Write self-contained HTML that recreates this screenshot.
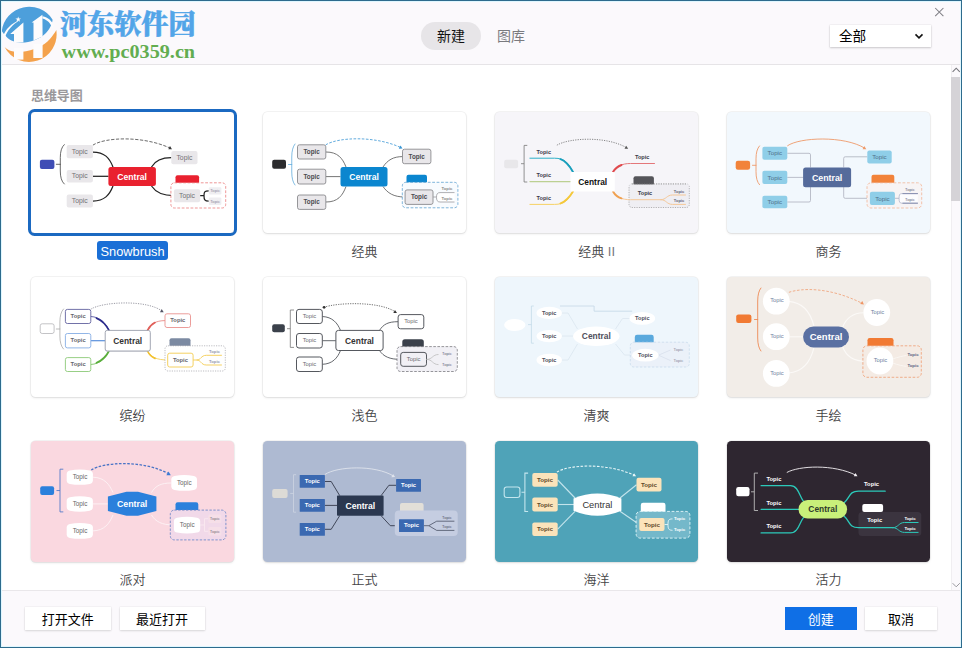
<!DOCTYPE html>
<html lang="zh-CN"><head><meta charset="utf-8"><title>新建</title>
<style>
*{box-sizing:border-box}
html,body{margin:0;padding:0}
body{width:962px;height:648px;position:relative;overflow:hidden;background:#fbf9fc;font-family:"Liberation Sans","Noto Sans CJK SC",sans-serif;color:#222}
.abs{position:absolute}
#frame{left:0;top:0;width:962px;height:648px;border:1px solid #2d6b8d;box-shadow:inset 0 0 0 1px #dff7ff;z-index:50;pointer-events:none}
#header{left:1px;top:1px;width:960px;height:63px;background:#fbf9fc}
#hline{left:1px;top:64px;width:960px;height:1px;background:#e6e4e7}
#content{left:1px;top:65px;width:960px;height:525px;background:#fff}
#fline{left:1px;top:590px;width:960px;height:1px;background:#e9e7ea}
#footer{left:1px;top:591px;width:960px;height:56px;background:#fbf9fc}
.card{position:absolute;width:203px;height:120.9px;border-radius:4.5px;box-shadow:0 0 0 .7px rgba(0,0,0,.06),0 1px 2.5px rgba(0,0,0,.10);overflow:hidden}
.card svg{display:block;font-family:"Liberation Sans",sans-serif}
.lbl{position:absolute;width:203px;text-align:center;font-size:13px;line-height:20px;color:#444446;white-space:nowrap;font-weight:350}
.btn{position:absolute;height:23px;line-height:25.6px;text-align:center;font-size:13px;overflow:hidden;background:#fff;color:#000;box-shadow:0 1px 2px rgba(0,0,0,.12),0 0 0 .5px rgba(0,0,0,.05)}
</style></head><body>
<div id="header" class="abs"></div>
<div id="hline" class="abs"></div>
<div id="content" class="abs"></div>
<div id="fline" class="abs"></div>
<div id="footer" class="abs"></div>
<svg class="abs" style="left:0;top:0" width="210" height="66" viewBox="0 0 210 66">
<g>
<path d="M1.8,31 A27.6,27.6 0 0 1 52.6,19.7 C52,25 49,30 45.7,33.3 C42,37 38,39 34.3,40.2 C30,41.8 25,42.8 20.8,42.6 C17,42.4 14,41.8 11.4,40.5 C9,39.2 6.5,37.5 5.2,35.3 C4,34 2.5,32.5 1.8,31 Z" fill="#4d9fdb"/>
<path d="M4.7,47.3 C8,50 10,51 13.5,51.6 C18,52.4 22,52 26,51.2 C32,50 37,48.5 41.6,45.7 C46,43 49.5,40 52,36.4 C54,34 55.3,32 56.3,30.1 A27.6,27.6 0 0 1 4.7,47.3 Z" fill="#f4a24c"/>
<path d="M3.2,36.4 C5.2,29.5 11,23.6 20.2,19.8 C12.4,24.8 7.6,30 4.9,37.4 Z" fill="#fdfcfd"/>
<path d="M10.2,34 L23.4,22.4 L23.4,42.6 L14,42 L14,34 Z" fill="#fdfcfd"/>
<path d="M31.6,22.6 L42.4,14.8 L42.6,36.5 L33.5,40.6 L33.5,22.6 Z" fill="#fdfcfd"/>
<path d="M42.4,16.3 C48.2,17.4 52,21 53.6,25.6 L52.4,28.4 C50.8,23.2 47.6,19.8 42.4,18.4 Z" fill="#fdfcfd"/>
<rect x="14" y="48" width="9.4" height="11.6" fill="#fdfcfd"/>
<rect x="33.3" y="44" width="9.3" height="14" fill="#fdfcfd"/>
<polygon points="18.2,16.4 18.9,18.4 21,18.4 19.3,19.7 20,21.8 18.2,20.5 16.4,21.8 17.1,19.7 15.4,18.4 17.5,18.4" fill="#fdfcfd"/>
</g>
<text x="60" y="34" font-family="'Liberation Serif','Noto Serif CJK SC',serif" font-weight="900" font-size="27" fill="#52a5e8" stroke="#52a5e8" stroke-width="0.5" textLength="135.5" lengthAdjust="spacingAndGlyphs">河东软件园</text>
<text x="61.6" y="58.4" font-family="'Liberation Serif',serif" font-weight="bold" font-size="19.5" fill="#62ad50" textLength="133.5" lengthAdjust="spacingAndGlyphs">www.pc0359.cn</text>
</svg>
<div class="abs" style="left:421px;top:22px;width:60px;height:28px;border-radius:14px;background:#e7e5e8"></div>
<div class="abs" style="left:421px;top:22px;width:60px;height:28px;line-height:29px;text-align:center;font-size:14px;color:#111">新建</div>
<div class="abs" style="left:481px;top:22px;width:60px;height:28px;line-height:29px;text-align:center;font-size:14px;color:#7a7a7e">图库</div>
<div class="abs" style="left:830.4px;top:25.4px;width:100.6px;height:21.8px;background:#fff;box-shadow:0 1px 2px rgba(0,0,0,.18),0 0 0 .5px rgba(0,0,0,.06)"></div>
<div class="abs" style="left:839px;top:25px;height:22px;line-height:23px;font-size:13.6px;color:#000">全部</div>
<svg class="abs" style="left:913px;top:31px" width="12" height="10" viewBox="0 0 12 10"><path d="M2.5,3.4 L6,6.8 L9.5,3.4" fill="none" stroke="#111" stroke-width="1.6"/></svg>
<svg class="abs" style="left:933px;top:6px" width="12" height="12" viewBox="0 0 12 12"><path d="M2.2,2 L10.4,10.1 M10.4,2 L2.2,10.1" fill="none" stroke="#7e7e84" stroke-width="1.05"/></svg>
<div class="abs" style="left:31px;top:86px;font-size:13px;line-height:20px;font-weight:bold;color:#9a989b;letter-spacing:-0.1px">思维导图</div>
<div class="abs" style="left:951px;top:65px;width:10px;height:525px;background:#fbf9fc;border-left:1px solid #f0eef1"></div>
<div class="abs" style="left:951px;top:77px;width:9px;height:124px;background:#d5d3d7"></div>
<svg class="abs" style="left:951px;top:66px" width="10" height="8" viewBox="0 0 10 8"><path d="M1.6,5.8 L5.2,2.2 L8.8,5.8" fill="none" stroke="#77777c" stroke-width="1.1"/></svg>
<svg class="abs" style="left:951.4px;top:581px" width="10" height="8" viewBox="0 0 10 8"><path d="M1.6,2.2 L5.2,5.8 L8.8,2.2" fill="none" stroke="#8e8e94" stroke-width="0.9"/></svg>
<div class="card" style="left:31.1px;top:112.3px;background:#ffffff"></div>
<div class="abs" style="left:28px;top:109px;width:209.3px;height:126.8px;border:3px solid #1b69c1;border-radius:6.5px"></div>
<div class="abs" style="left:97px;top:241px;width:71px;height:19px;border-radius:3px;background:#1a6fd6"></div>
<div class="lbl" style="left:31.1px;top:242.1px;color:#fff;font-weight:400;font-size:12.8px">Snowbrush</div>
<div class="card" style="left:263.1px;top:112.3px;background:#ffffff"></div>
<div class="lbl" style="left:263.1px;top:241.5px">经典</div>
<div class="card" style="left:495.1px;top:112.3px;background:#f6f5f9"></div>
<div class="lbl" style="left:495.1px;top:241.5px">经典 <span style="color:#77777c">II</span></div>
<div class="card" style="left:727.1px;top:112.3px;background:#f2f8fd"></div>
<div class="lbl" style="left:727.1px;top:241.5px">商务</div>
<div class="card" style="left:31.1px;top:276.6px;background:#ffffff"></div>
<div class="lbl" style="left:31.1px;top:405.8px">缤纷</div>
<div class="card" style="left:263.1px;top:276.6px;background:#ffffff"></div>
<div class="lbl" style="left:263.1px;top:405.8px">浅色</div>
<div class="card" style="left:495.1px;top:276.6px;background:#eef6fc"></div>
<div class="lbl" style="left:495.1px;top:405.8px">清爽</div>
<div class="card" style="left:727.1px;top:276.6px;background:#f2ede8"></div>
<div class="lbl" style="left:727.1px;top:405.8px">手绘</div>
<div class="card" style="left:31.1px;top:440.8px;background:#fad8e0"></div>
<div class="lbl" style="left:31.1px;top:570.0px">派对</div>
<div class="card" style="left:263.1px;top:440.8px;background:#aebad2"></div>
<div class="lbl" style="left:263.1px;top:570.0px">正式</div>
<div class="card" style="left:495.1px;top:440.8px;background:#4fa3b8"></div>
<div class="lbl" style="left:495.1px;top:570.0px">海洋</div>
<div class="card" style="left:727.1px;top:440.8px;background:#2e2630"></div>
<div class="lbl" style="left:727.1px;top:570.0px">活力</div>
<svg class="abs" style="left:0;top:0;font-family:&quot;Liberation Sans&quot;,sans-serif" width="962" height="648" viewBox="0 0 962 648">
<g transform="translate(30.50,111.00)"><path d="M62.4,41 C74,41 79,47 82.5,56" fill="none" stroke="#222" stroke-width="1.25" /><path d="M62.4,65.3 L78,65.3" fill="none" stroke="#222" stroke-width="1.25" /><path d="M62.4,90 C74,90 79,84 82.5,75" fill="none" stroke="#222" stroke-width="1.25" /><path d="M121,56 C125,49 131,46.7 140.8,46.7" fill="none" stroke="#222" stroke-width="1.25" /><path d="M121,75 C125,81 131,84.7 143.4,84.7" fill="none" stroke="#222" stroke-width="1.25" /><rect x="9.40" y="48.80" width="14.50" height="9.20" rx="2" fill="#3f4db5" /><path d="M33.8,33.6 C31.00,36.10 29.80,40.60 29.80,46.60 L29.80,60.00 C29.80,66.00 31.00,70.50 33.8,73 M29.80,53.3 L25.8,53.3" fill="none" stroke="#444" stroke-width="0.8" stroke-linecap="round"/><rect x="36.20" y="34.10" width="26.20" height="13.10" rx="2" fill="#e9e7ea" /><text x="49.30" y="40.27" font-size="6.8" fill="#707074" font-weight="normal" text-anchor="middle" dominant-baseline="central" >Topic</text><rect x="36.20" y="59.00" width="26.20" height="12.60" rx="2" fill="#e9e7ea" /><text x="49.30" y="64.92" font-size="6.8" fill="#707074" font-weight="normal" text-anchor="middle" dominant-baseline="central" >Topic</text><rect x="36.20" y="83.40" width="26.20" height="13.10" rx="2" fill="#e9e7ea" /><text x="49.30" y="89.57" font-size="6.8" fill="#707074" font-weight="normal" text-anchor="middle" dominant-baseline="central" >Topic</text><rect x="77.90" y="55.90" width="47.50" height="19.10" rx="2.5" fill="#e9212f" /><text x="101.60" y="65.60" font-size="8.6" fill="#fff" font-weight="bold" text-anchor="middle" dominant-baseline="central" >Central</text><rect x="140.80" y="40.10" width="26.20" height="13.20" rx="2" fill="#e9e7ea" /><text x="153.90" y="46.32" font-size="6.8" fill="#707074" font-weight="normal" text-anchor="middle" dominant-baseline="central" >Topic</text><rect x="145.00" y="64.30" width="23.60" height="8.70" rx="2" fill="#e9212f" /><rect x="140.40" y="71.80" width="54.80" height="25.20" rx="3.5" fill="#fff" stroke="#e86c6c" stroke-width="0.7" stroke-dasharray="2.8 1.6"/><rect x="143.40" y="78.20" width="26.30" height="13.10" rx="2" fill="#e9e7ea" /><text x="156.55" y="84.37" font-size="6.8" fill="#707074" font-weight="normal" text-anchor="middle" dominant-baseline="central" >Topic</text><path d="M169.7,84.7 L173.5,84.7 M178.3,79.8 C174,79.8 173.5,81 173.5,84.7 C173.5,88.5 174,90.2 178.3,90.2" fill="none" stroke="#222" stroke-width="1.25" /><rect x="178.30" y="76.30" width="12.60" height="7.10" rx="1.2" fill="#efeef1" /><text x="184.60" y="79.69" font-size="4.2" fill="#8a8a9a" font-weight="normal" text-anchor="middle" dominant-baseline="central" >Topic</text><rect x="178.30" y="86.60" width="12.60" height="7.30" rx="1.2" fill="#efeef1" /><text x="184.60" y="90.09" font-size="4.2" fill="#8a8a9a" font-weight="normal" text-anchor="middle" dominant-baseline="central" >Topic</text><path d="M62.4,34.1 C74.4,26.3 112.4,24.3 140.3,37.400000000000006" fill="none" stroke="#3a3a3a" stroke-width="0.75" stroke-dasharray="3.3 1.5"/><polygon points="141.50,38.20 137.80,38.26 139.48,35.10" fill="#3a3a3a"/></g>
<g transform="translate(262.50,111.00)"><path d="M63.5,41 C75,41 80,47 83.5,56" fill="none" stroke="#666" stroke-width="0.9" /><path d="M63.5,65.6 L78,65.6" fill="none" stroke="#666" stroke-width="0.9" /><path d="M63.5,91 C75,91 80,85 83.5,75.5" fill="none" stroke="#666" stroke-width="0.9" /><path d="M120.5,56 C125,49 131,45.6 140,45.6" fill="none" stroke="#666" stroke-width="0.9" /><path d="M120.5,75.5 C125,82 131,86 142.4,86" fill="none" stroke="#666" stroke-width="0.9" /><rect x="9.70" y="48.80" width="13.80" height="8.90" rx="2" fill="#2c2c2e" /><path d="M32.5,33 C30.45,35.50 29.25,40.00 29.25,46.00 L29.25,61.00 C29.25,67.00 30.45,71.50 32.5,74 M29.25,53.5 L26,53.5" fill="none" stroke="#62acdc" stroke-width="0.8" stroke-linecap="round"/><rect x="35.00" y="33.80" width="28.30" height="14.20" rx="2" fill="#e9e7ea" stroke="#8b8b8e" stroke-width="0.9" /><text x="49.15" y="40.56" font-size="6.3" fill="#4a4a4e" font-weight="bold" text-anchor="middle" dominant-baseline="central" >Topic</text><rect x="35.00" y="58.20" width="28.30" height="14.80" rx="2" fill="#e9e7ea" stroke="#8b8b8e" stroke-width="0.9" /><text x="49.15" y="65.26" font-size="6.3" fill="#4a4a4e" font-weight="bold" text-anchor="middle" dominant-baseline="central" >Topic</text><rect x="35.00" y="84.00" width="28.30" height="14.40" rx="2" fill="#e9e7ea" stroke="#8b8b8e" stroke-width="0.9" /><text x="49.15" y="90.86" font-size="6.3" fill="#4a4a4e" font-weight="bold" text-anchor="middle" dominant-baseline="central" >Topic</text><rect x="78.00" y="56.00" width="47.00" height="19.50" rx="2.5" fill="#0b86cf" /><text x="101.50" y="65.90" font-size="8.6" fill="#fff" font-weight="bold" text-anchor="middle" dominant-baseline="central" >Central</text><rect x="140.00" y="38.20" width="28.40" height="14.50" rx="2" fill="#e9e7ea" stroke="#8b8b8e" stroke-width="0.9" /><text x="154.20" y="45.11" font-size="6.3" fill="#4a4a4e" font-weight="bold" text-anchor="middle" dominant-baseline="central" >Topic</text><rect x="144.00" y="63.70" width="20.50" height="9.30" rx="2" fill="#0b86cf" /><rect x="139.80" y="71.30" width="55.60" height="25.50" rx="3.5" fill="#f8fbfe" stroke="#4b95cc" stroke-width="0.7" stroke-dasharray="2.8 1.6"/><rect x="142.60" y="78.90" width="27.90" height="14.50" rx="2" fill="#e9e7ea" stroke="#8b8b8e" stroke-width="0.9" /><text x="156.55" y="85.81" font-size="6.3" fill="#4a4a4e" font-weight="bold" text-anchor="middle" dominant-baseline="central" >Topic</text><path d="M170.5,86 L174,86" fill="none" stroke="#9a9aa0" stroke-width="0.8" /><path d="M192,81.6 L177.5,81.6 C174.6,81.6 174,83.4 174,86.2 C174,89 174.6,91 177.5,91 L192,91 Z" fill="#fff"/><path d="M192,81.6 L177.5,81.6 C174.6,81.6 174,83.4 174,86.2 C174,89 174.6,91 177.5,91 L192,91" fill="none" stroke="#9a9aa0" stroke-width="0.8" /><text x="184.50" y="77.84" font-size="4.2" fill="#888" font-weight="bold" text-anchor="middle" dominant-baseline="central" >Topic</text><text x="184.50" y="87.04" font-size="4.2" fill="#888" font-weight="bold" text-anchor="middle" dominant-baseline="central" >Topic</text><path d="M63.3,33.8 C75.3,26.3 112.4,24.3 138.8,36.800000000000004" fill="none" stroke="#3a96d4" stroke-width="0.8" stroke-dasharray="2.6 1.5"/><polygon points="140.00,37.60 136.30,37.66 137.98,34.50" fill="#3a96d4"/></g>
<g transform="translate(494.50,111.00)"><rect x="9.70" y="48.80" width="13.90" height="8.40" rx="2" fill="#e8e7ea" /><path d="M32.8,34.4 L29.6,34.4 L29.6,71 L32.8,71 M29.6,52.7 L26.5,52.7" fill="none" stroke="#777" stroke-width="0.8" /><path d="M35.4,47.2 L60,47.2 C70,47.2 74,52 78.5,61" fill="none" stroke="#2eb0c8" stroke-width="1.0" stroke-linecap="round"/><path d="M66,48.2 C71,50 74.5,54 78.5,61" fill="none" stroke="#1a9fbc" stroke-width="1.9" stroke-linecap="round"/><path d="M35.4,70.6 L76,70.6" fill="none" stroke="#bcd092" stroke-width="1.1" stroke-linecap="round"/><path d="M35.4,93.4 L60,93.4 C70,93.4 74,89 78.5,80.5" fill="none" stroke="#f6d264" stroke-width="1.0" stroke-linecap="round"/><path d="M66,92.4 C71,90.6 74.5,87 78.5,80.5" fill="none" stroke="#f4c83c" stroke-width="1.9" stroke-linecap="round"/><path d="M118.5,61 C122,55.5 127,52.5 136,52.5 L160,52.5" fill="none" stroke="#e4777a" stroke-width="1.0" stroke-linecap="round"/><path d="M118.5,61 C120.5,57.5 123,55.5 127,54" fill="none" stroke="#e04a4e" stroke-width="1.9" stroke-linecap="round"/><rect x="134.50" y="73.00" width="60.30" height="23.50" rx="3" fill="#efeef3" stroke="#888" stroke-width="0.6" stroke-dasharray="1.2 1.2"/><path d="M118.5,80.5 C122,86 127,88.7 136,88.7 L166,88.7" fill="none" stroke="#f5c898" stroke-width="1.0" stroke-linecap="round"/><path d="M118.5,80.5 C120.5,84 123,86.2 127,87.4" fill="none" stroke="#f0a050" stroke-width="1.9" stroke-linecap="round"/><path d="M166,88.7 C172,88.7 172,84 178,84 L191.4,84 M166,88.7 C172,88.7 172,93.4 178,93.4 L191.4,93.4" fill="none" stroke="#f5c898" stroke-width="1" /><text x="49.30" y="40.82" font-size="5.6" fill="#3a3a48" font-weight="bold" text-anchor="middle" dominant-baseline="central" >Topic</text><text x="49.30" y="63.92" font-size="5.6" fill="#3a3a48" font-weight="bold" text-anchor="middle" dominant-baseline="central" >Topic</text><text x="49.30" y="86.72" font-size="5.6" fill="#3a3a48" font-weight="bold" text-anchor="middle" dominant-baseline="central" >Topic</text><rect x="76.00" y="61.00" width="44.30" height="19.60" rx="1.5" fill="#fff" /><text x="98.20" y="70.90" font-size="8.4" fill="#111" font-weight="bold" text-anchor="middle" dominant-baseline="central" >Central</text><text x="147.70" y="45.52" font-size="5.6" fill="#3a3a48" font-weight="bold" text-anchor="middle" dominant-baseline="central" >Topic</text><rect x="139.00" y="65.30" width="20.40" height="9.70" rx="2" fill="#55555a" /><rect x="134.90" y="73.40" width="59.50" height="2.10" rx="0" fill="#efeef3" /><path d="M137.5,73 L191.8,73" fill="none" stroke="#888" stroke-width="0.6" stroke-dasharray="1.2 1.2"/><text x="150.50" y="81.72" font-size="5.6" fill="#3a3a48" font-weight="bold" text-anchor="middle" dominant-baseline="central" >Topic</text><text x="184.50" y="80.06" font-size="4.0" fill="#667" font-weight="bold" text-anchor="middle" dominant-baseline="central" >Topic</text><text x="184.50" y="89.66" font-size="4.0" fill="#667" font-weight="bold" text-anchor="middle" dominant-baseline="central" >Topic</text><path d="M62.4,34.2 C74.4,26.8 112.4,24.8 132.5,37.0" fill="none" stroke="#555" stroke-width="0.7" stroke-dasharray="1.2 1.2"/><polygon points="133.70,37.80 130.00,37.86 131.68,34.70" fill="#555"/></g>
<g transform="translate(726.50,111.00)"><path d="M60.8,42.3 L82.5,42.3 Q84,42.3 84,43.8 L84,56.4" fill="none" stroke="#b4b8c4" stroke-width="0.9" /><path d="M60.8,66.4 L77,66.4" fill="none" stroke="#b4b8c4" stroke-width="0.9" /><path d="M60.8,91 L82.5,91 Q84,91 84,89.5 L84,76" fill="none" stroke="#b4b8c4" stroke-width="0.9" /><path d="M117.2,56.4 L117.2,47.3 Q117.2,45.8 118.7,45.8 L140.8,45.8" fill="none" stroke="#b4b8c4" stroke-width="0.9" /><path d="M117.2,76 L117.2,85.8 Q117.2,87.3 118.7,87.3 L143.4,87.3" fill="none" stroke="#b4b8c4" stroke-width="0.9" /><rect x="9.20" y="49.80" width="14.40" height="9.00" rx="2.2" fill="#f2833a" /><path d="M33,34.9 C30.70,37.40 29.50,41.90 29.50,47.90 L29.50,60.70 C29.50,66.70 30.70,71.20 33,73.7 M29.50,54.3 L26,54.3" fill="none" stroke="#ee9a6a" stroke-width="0.9" stroke-linecap="round"/><rect x="35.90" y="35.70" width="24.90" height="13.10" rx="2" fill="#8fcee8" /><text x="48.35" y="41.92" font-size="6.2" fill="#4f7088" font-weight="normal" text-anchor="middle" dominant-baseline="central" >Topic</text><rect x="35.90" y="59.80" width="24.90" height="13.10" rx="2" fill="#8fcee8" /><text x="48.35" y="66.02" font-size="6.2" fill="#4f7088" font-weight="normal" text-anchor="middle" dominant-baseline="central" >Topic</text><rect x="35.90" y="84.70" width="24.90" height="12.60" rx="2" fill="#8fcee8" /><text x="48.35" y="90.67" font-size="6.2" fill="#4f7088" font-weight="normal" text-anchor="middle" dominant-baseline="central" >Topic</text><rect x="76.60" y="56.40" width="48.00" height="19.90" rx="2.5" fill="#556b9b" /><text x="100.60" y="66.60" font-size="8.8" fill="#fff" font-weight="bold" text-anchor="middle" dominant-baseline="central" >Central</text><rect x="140.80" y="39.40" width="24.40" height="13.10" rx="2" fill="#8fcee8" /><text x="153.00" y="45.62" font-size="6.2" fill="#4f7088" font-weight="normal" text-anchor="middle" dominant-baseline="central" >Topic</text><rect x="145.00" y="63.70" width="22.80" height="9.30" rx="2" fill="#f2833a" /><rect x="140.50" y="71.80" width="54.70" height="25.20" rx="4" fill="#f7f4f5" stroke="#f1a982" stroke-width="0.65" stroke-dasharray="2.8 1.7"/><rect x="143.40" y="80.80" width="25.00" height="13.10" rx="2" fill="#8fcee8" /><text x="155.90" y="87.02" font-size="6.2" fill="#4f7088" font-weight="normal" text-anchor="middle" dominant-baseline="central" >Topic</text><path d="M168.4,87.3 L172.6,87.3" fill="none" stroke="#a8aec4" stroke-width="0.8" /><path d="M191.4,82.6 L175.2,82.6 C173,82.6 172.6,84 172.6,87.3 C172.6,90.6 173,92.2 175.2,92.2 L191.4,92.2 Z" fill="#fcfcfe"/><path d="M191.4,82.6 L175.2,82.6 C173,82.6 172.6,84 172.6,87.3 C172.6,90.6 173,92.2 175.2,92.2 L191.4,92.2" fill="none" stroke="#a8aec4" stroke-width="0.7" /><path d="M176,82.6 L191.4,82.6 M176,92.2 L191.4,92.2" fill="none" stroke="#8088ac" stroke-width="0.9" /><text x="183.50" y="78.54" font-size="4.2" fill="#667" font-weight="normal" text-anchor="middle" dominant-baseline="central" >Topic</text><text x="183.50" y="88.44" font-size="4.2" fill="#667" font-weight="normal" text-anchor="middle" dominant-baseline="central" >Topic</text><path d="M60.8,34.9 C72.8,26.3 117.6,24.3 138.60000000000002,37.400000000000006" fill="none" stroke="#ee9a6a" stroke-width="0.9" /><polygon points="139.80,38.20 136.10,38.26 137.78,35.10" fill="#ee9a6a"/></g>
<g transform="translate(30.50,275.00)"><path d="M60.3,41.5 C70,42 75,48 78.5,55.4" fill="none" stroke="#5656a4" stroke-width="0.9" stroke-linecap="round"/><path d="M66,43.2 C71.5,45.5 75.6,49.6 78.5,55.4" fill="none" stroke="#2b2b8c" stroke-width="1.7" stroke-linecap="round"/><path d="M60.3,65.7 L75,65.7" fill="none" stroke="#5a90dc" stroke-width="1.2" /><path d="M60.3,89.5 C70,89 75,83 78.5,76" fill="none" stroke="#7cc264" stroke-width="0.9" stroke-linecap="round"/><path d="M66,87.8 C71.5,85.5 75.6,81.6 78.5,76" fill="none" stroke="#5aae3c" stroke-width="1.7" stroke-linecap="round"/><path d="M117,55.4 C120,49 125,45.6 134.5,45.6" fill="none" stroke="#ea8a86" stroke-width="0.9" stroke-linecap="round"/><path d="M117,55.4 C118.6,52 121,49.4 124.5,47.6" fill="none" stroke="#e0605a" stroke-width="1.7" stroke-linecap="round"/><path d="M117,76 C120,82 126,85 137.2,85" fill="none" stroke="#f4d060" stroke-width="0.9" stroke-linecap="round"/><path d="M117,76 C118.6,79.4 121,82 124.5,83.4" fill="none" stroke="#f2c12e" stroke-width="1.7" stroke-linecap="round"/><rect x="9.70" y="48.80" width="13.90" height="9.70" rx="2" fill="#fff" stroke="#b4b4b8" stroke-width="0.8" /><path d="M33,34 C30.60,36.50 29.40,41.00 29.40,47.00 L29.40,61.00 C29.40,67.00 30.60,71.50 33,74 M29.40,54.0 L25.8,54.0" fill="none" stroke="#aaa" stroke-width="0.8" stroke-linecap="round"/><rect x="34.90" y="34.40" width="25.40" height="14.10" rx="2" fill="#fff" stroke="#62629e" stroke-width="0.9" /><text x="47.60" y="41.16" font-size="5.8" fill="#66666c" font-weight="bold" text-anchor="middle" dominant-baseline="central" >Topic</text><rect x="34.90" y="58.50" width="25.40" height="14.40" rx="2" fill="#fff" stroke="#86aee4" stroke-width="0.9" /><text x="47.60" y="65.41" font-size="5.8" fill="#66666c" font-weight="bold" text-anchor="middle" dominant-baseline="central" >Topic</text><rect x="34.90" y="82.60" width="25.40" height="13.90" rx="2" fill="#fff" stroke="#8cca78" stroke-width="0.9" /><text x="47.60" y="89.26" font-size="5.8" fill="#66666c" font-weight="bold" text-anchor="middle" dominant-baseline="central" >Topic</text><rect x="74.90" y="56.20" width="44.70" height="20.40" rx="2" fill="#c8cad2" /><rect x="74.70" y="55.40" width="45.10" height="20.60" rx="2" fill="#fff" stroke="#9a9eac" stroke-width="0.9" /><text x="97.20" y="65.90" font-size="8.4" fill="#333" font-weight="bold" text-anchor="middle" dominant-baseline="central" >Central</text><rect x="134.50" y="38.80" width="25.50" height="13.70" rx="2" fill="#fff" stroke="#ea928e" stroke-width="0.9" /><text x="147.25" y="45.36" font-size="5.8" fill="#66666c" font-weight="bold" text-anchor="middle" dominant-baseline="central" >Topic</text><rect x="139.00" y="63.20" width="21.00" height="9.80" rx="2" fill="#7c8aa2" /><rect x="134.50" y="70.80" width="60.30" height="25.20" rx="3" fill="#fff" stroke="#909098" stroke-width="0.6" stroke-dasharray="1.2 1.2"/><rect x="137.20" y="78.20" width="25.40" height="13.80" rx="2" fill="#fff" stroke="#f4cc50" stroke-width="0.9" /><text x="149.90" y="84.81" font-size="5.8" fill="#66666c" font-weight="bold" text-anchor="middle" dominant-baseline="central" >Topic</text><path d="M162.6,85 L166,85 M166,85 C171,85 170,80.3 176,80.3 L191.4,80.3 M166,85 C171,85 170,90 176,90 L191.4,90" fill="none" stroke="#f4cc50" stroke-width="0.9" /><text x="184.00" y="76.84" font-size="4.2" fill="#99a" font-weight="bold" text-anchor="middle" dominant-baseline="central" >Topic</text><text x="184.00" y="86.64" font-size="4.2" fill="#99a" font-weight="bold" text-anchor="middle" dominant-baseline="central" >Topic</text><path d="M60.3,34.2 C72.3,26.5 117,24.5 132.0,36.400000000000006" fill="none" stroke="#556" stroke-width="0.6" stroke-dasharray="1.2 1.2"/><polygon points="133.20,37.20 129.50,37.26 131.18,34.10" fill="#556"/></g>
<g transform="translate(262.50,275.00)"><path d="M59.8,41.5 C70,42 75,48 78,55.4" fill="none" stroke="#55585e" stroke-width="0.9" /><path d="M59.8,65.7 L73.4,65.7" fill="none" stroke="#55585e" stroke-width="0.9" /><path d="M59.8,89.3 C70,89 75,83 78,75.5" fill="none" stroke="#55585e" stroke-width="0.9" /><path d="M117,55.4 C121,49 126,46.7 135.6,46.7" fill="none" stroke="#55585e" stroke-width="0.9" /><path d="M117,75.5 C121,81.5 127,84.4 138.2,84.4" fill="none" stroke="#55585e" stroke-width="0.9" /><rect x="9.70" y="49.30" width="12.60" height="7.90" rx="2" fill="#3b414b" /><path d="M31.5,35 L27.8,35 L27.8,72.4 L31.5,72.4 M27.8,53.7 L24.5,53.7" fill="none" stroke="#777" stroke-width="0.8" /><rect x="34.00" y="34.40" width="25.80" height="14.10" rx="2.5" fill="#fff" stroke="#55585e" stroke-width="1" /><text x="46.90" y="41.16" font-size="5.8" fill="#6a6a70" font-weight="normal" text-anchor="middle" dominant-baseline="central" >Topic</text><rect x="34.00" y="58.50" width="25.80" height="14.50" rx="2.5" fill="#fff" stroke="#55585e" stroke-width="1" /><text x="46.90" y="65.46" font-size="5.8" fill="#6a6a70" font-weight="normal" text-anchor="middle" dominant-baseline="central" >Topic</text><rect x="34.00" y="82.00" width="25.80" height="14.50" rx="2.5" fill="#fff" stroke="#55585e" stroke-width="1" /><text x="46.90" y="88.96" font-size="5.8" fill="#6a6a70" font-weight="normal" text-anchor="middle" dominant-baseline="central" >Topic</text><rect x="73.40" y="55.40" width="47.20" height="20.10" rx="2.5" fill="#fff" stroke="#55585e" stroke-width="1" /><text x="97.00" y="65.60" font-size="8.4" fill="#333" font-weight="bold" text-anchor="middle" dominant-baseline="central" >Central</text><rect x="135.60" y="39.60" width="25.70" height="14.20" rx="2.5" fill="#fff" stroke="#55585e" stroke-width="1" /><text x="148.45" y="46.41" font-size="5.8" fill="#6a6a70" font-weight="normal" text-anchor="middle" dominant-baseline="central" >Topic</text><rect x="139.80" y="64.30" width="21.50" height="9.70" rx="2.5" fill="#3b414b" /><rect x="134.50" y="71.60" width="60.30" height="24.90" rx="3.5" fill="#f1f0f5" stroke="#6a6a70" stroke-width="0.7" stroke-dasharray="2.6 1.5"/><rect x="138.20" y="77.40" width="25.80" height="13.90" rx="2.5" fill="#f1f0f5" stroke="#55585e" stroke-width="1" /><text x="151.10" y="84.06" font-size="5.8" fill="#6a6a70" font-weight="normal" text-anchor="middle" dominant-baseline="central" >Topic</text><path d="M164,84.4 C170,84.4 170,79.5 176,79.5 M164,84.4 C170,84.4 170,89.6 176,89.6" fill="none" stroke="#bbb" stroke-width="0.8" /><text x="184.50" y="78.64" font-size="4.2" fill="#667" font-weight="normal" text-anchor="middle" dominant-baseline="central" >Topic</text><text x="184.50" y="89.24" font-size="4.2" fill="#667" font-weight="normal" text-anchor="middle" dominant-baseline="central" >Topic</text><path d="M61.6,32.3 C73.6,27.7 117,25.7 133.3,37.2" fill="none" stroke="#333" stroke-width="0.7" stroke-dasharray="1.2 1.2"/><polygon points="134.50,38.00 130.80,38.06 132.48,34.90" fill="#333"/><circle cx="61.6" cy="32.3" r="1.4" fill="#333"/></g>
<g transform="translate(494.50,275.00)"><path d="M67,38 L73.5,38 L83,54" fill="none" stroke="#dde8f0" stroke-width="0.9" /><path d="M67,61 L79,61" fill="none" stroke="#dde8f0" stroke-width="0.9" /><path d="M67,85 L73.5,85 L83,69" fill="none" stroke="#dde8f0" stroke-width="0.9" /><path d="M121,54 L128,43.5 L136,43.5" fill="none" stroke="#dde8f0" stroke-width="0.9" /><path d="M121,69 L130,80 L138,80" fill="none" stroke="#dde8f0" stroke-width="0.9" /><path d="M65.5,31 L99.6,31 L99.6,36.2 L137.7,36.2" fill="none" stroke="#c4d8e6" stroke-width="0.8" /><ellipse cx="20.3" cy="50" rx="10.7" ry="6" fill="#fff"/><path d="M39.3,31 L36.9,31 L36.9,68.2 L39.3,68.2 M36.9,49.6 L33.5,49.6" fill="none" stroke="#c4dae8" stroke-width="0.8" /><ellipse cx="54.7" cy="37.9" rx="12.7" ry="6.2" fill="#fff"/><text x="54.70" y="37.52" font-size="5.6" fill="#50505c" font-weight="bold" text-anchor="middle" dominant-baseline="central" >Topic</text><ellipse cx="54.7" cy="61.1" rx="12.7" ry="6.2" fill="#fff"/><text x="54.70" y="60.72" font-size="5.6" fill="#50505c" font-weight="bold" text-anchor="middle" dominant-baseline="central" >Topic</text><ellipse cx="54.7" cy="85" rx="12.7" ry="6.2" fill="#fff"/><text x="54.70" y="84.62" font-size="5.6" fill="#50505c" font-weight="bold" text-anchor="middle" dominant-baseline="central" >Topic</text><ellipse cx="101.8" cy="61.2" rx="23.2" ry="9.8" fill="#fff"/><text x="101.80" y="61.30" font-size="8.4" fill="#50505c" font-weight="bold" text-anchor="middle" dominant-baseline="central" >Central</text><ellipse cx="147.8" cy="43.4" rx="12.8" ry="6.4" fill="#fff"/><text x="147.80" y="43.02" font-size="5.6" fill="#50505c" font-weight="bold" text-anchor="middle" dominant-baseline="central" >Topic</text><rect x="140.30" y="59.80" width="18.90" height="9.70" rx="2.2" fill="#5aa9dd" /><rect x="135.80" y="67.20" width="59.00" height="24.80" rx="3.5" fill="#ebf1f9" stroke="#bdd5e8" stroke-width="0.6" stroke-dasharray="2.4 1.6"/><path d="M164,80.2 L176,75 M164,80.2 L176,85.6" fill="none" stroke="#d8e0ec" stroke-width="0.8" /><ellipse cx="150.8" cy="80.2" rx="13.2" ry="6.4" fill="#fff"/><text x="150.80" y="79.82" font-size="5.6" fill="#50505c" font-weight="bold" text-anchor="middle" dominant-baseline="central" >Topic</text><text x="184.00" y="74.44" font-size="4.2" fill="#889" font-weight="normal" text-anchor="middle" dominant-baseline="central" >Topic</text><text x="184.00" y="85.24" font-size="4.2" fill="#889" font-weight="normal" text-anchor="middle" dominant-baseline="central" >Topic</text></g>
<g transform="translate(726.50,275.00)"><path d="M62,26.4 C77,27.5 84.5,39 87.5,51.4" fill="none" stroke="#fbf9f7" stroke-width="1.1" /><path d="M63,61.8 L77,61.8" fill="none" stroke="#fbf9f7" stroke-width="1.1" /><path d="M62,98 C77,97 84.5,85 87.5,72.4" fill="none" stroke="#fbf9f7" stroke-width="1.1" /><path d="M116,52.5 C120,42 127,38 137,37.8" fill="none" stroke="#fbf9f7" stroke-width="1.1" /><path d="M116,71.5 C120,82 127,86 140,86.4" fill="none" stroke="#fbf9f7" stroke-width="1.1" /><rect x="9.70" y="39.40" width="15.20" height="8.60" rx="2.2" fill="#f17a33" /><path d="M34.4,13 C32.40,15.50 31.20,20.00 31.20,26.00 L31.20,63.00 C31.20,69.00 32.40,73.50 34.4,76 M31.20,44.5 L28,44.5" fill="none" stroke="#ee8a55" stroke-width="0.9" stroke-linecap="round"/><circle cx="49.8" cy="26.2" r="13.4" fill="#fff"/><text x="50.40" y="25.41" font-size="5.8" fill="#6e7fa0" font-weight="normal" text-anchor="middle" dominant-baseline="central" >Topic</text><circle cx="49.8" cy="61.7" r="13.4" fill="#fff"/><text x="50.40" y="60.91" font-size="5.8" fill="#6e7fa0" font-weight="normal" text-anchor="middle" dominant-baseline="central" >Topic</text><circle cx="49.8" cy="98.4" r="13.4" fill="#fff"/><text x="50.40" y="97.61" font-size="5.8" fill="#6e7fa0" font-weight="normal" text-anchor="middle" dominant-baseline="central" >Topic</text><rect x="76.60" y="51.40" width="45.90" height="21.00" rx="10.5" fill="#5a70a2" /><text x="99.60" y="61.90" font-size="9.5" fill="#fff" font-weight="bold" text-anchor="middle" dominant-baseline="central" >Central</text><circle cx="150.3" cy="37.5" r="13.4" fill="#fff"/><text x="151.00" y="36.71" font-size="5.8" fill="#6e7fa0" font-weight="normal" text-anchor="middle" dominant-baseline="central" >Topic</text><rect x="141.00" y="63.00" width="26.00" height="9.50" rx="2.2" fill="#f17a33" /><rect x="136.40" y="70.80" width="58.40" height="31.50" rx="4" fill="#f4ebe4" stroke="#ef9463" stroke-width="0.7" stroke-dasharray="2.6 1.6"/><path d="M166,84 C172,82 176,81 180,80.5 M166,88 C172,90 176,91 180,91.3" fill="none" stroke="#faf6f2" stroke-width="1" /><circle cx="153.4" cy="86" r="13.4" fill="#fff"/><text x="153.90" y="85.31" font-size="5.8" fill="#6e7fa0" font-weight="normal" text-anchor="middle" dominant-baseline="central" >Topic</text><text x="186.50" y="79.93" font-size="4.3" fill="#5a6484" font-weight="bold" text-anchor="middle" dominant-baseline="central" >Topic</text><text x="186.50" y="90.93" font-size="4.3" fill="#5a6484" font-weight="bold" text-anchor="middle" dominant-baseline="central" >Topic</text><path d="M62.4,17.3 C74.4,13.3 102,11.3 136.20000000000002,28.599999999999998" fill="none" stroke="#ef9463" stroke-width="0.7" stroke-dasharray="2.6 1.6"/><polygon points="137.40,29.40 133.72,29.01 135.78,26.07" fill="#ef9463"/></g>
<g transform="translate(30.50,439.50)"><path d="M62.4,37.7 C74,38 79,45 82.5,53" fill="none" stroke="#fdf3f5" stroke-width="0.9" /><path d="M62.4,64.4 L78,64.4" fill="none" stroke="#fdf3f5" stroke-width="0.9" /><path d="M62.4,91.4 C74,91 79,84 82.5,75.5" fill="none" stroke="#fdf3f5" stroke-width="0.9" /><path d="M121,53 C125,46 131,43.5 140.8,43.5" fill="none" stroke="#fdf3f5" stroke-width="0.9" /><path d="M121,75.5 C125,82 131,85.5 143.4,85.5" fill="none" stroke="#fdf3f5" stroke-width="0.9" /><rect x="9.70" y="46.70" width="13.90" height="8.70" rx="2" fill="#2b80dc" /><path d="M32.8,29.7 L29.5,29.7 L29.5,72.4 L32.8,72.4 M29.5,51.050000000000004 L26,51.050000000000004" fill="none" stroke="#567cc8" stroke-width="0.9" /><path d="M39.400000000000006,31.0 Q49.3,29.200000000000003 59.199999999999996,31.0 Q62.4,31.700000000000003 62.4,34.7 L62.4,40.699999999999996 Q62.4,43.699999999999996 59.199999999999996,44.4 Q49.3,46.199999999999996 39.400000000000006,44.4 Q36.2,43.699999999999996 36.2,40.699999999999996 L36.2,34.7 Q36.2,31.700000000000003 39.400000000000006,31.0 Z" fill="#fff"/><text x="49.50" y="37.16" font-size="6.3" fill="#666" font-weight="normal" text-anchor="middle" dominant-baseline="central" >Topic</text><path d="M39.400000000000006,57.699999999999996 Q49.3,55.9 59.199999999999996,57.699999999999996 Q62.4,58.4 62.4,61.4 L62.4,67.60000000000001 Q62.4,70.60000000000001 59.199999999999996,71.3 Q49.3,73.10000000000001 39.400000000000006,71.3 Q36.2,70.60000000000001 36.2,67.60000000000001 L36.2,61.4 Q36.2,58.4 39.400000000000006,57.699999999999996 Z" fill="#fff"/><text x="49.50" y="63.96" font-size="6.3" fill="#666" font-weight="normal" text-anchor="middle" dominant-baseline="central" >Topic</text><path d="M39.400000000000006,84.4 Q49.3,82.6 59.199999999999996,84.4 Q62.4,85.1 62.4,88.1 L62.4,94.7 Q62.4,97.7 59.199999999999996,98.39999999999999 Q49.3,100.2 39.400000000000006,98.39999999999999 Q36.2,97.7 36.2,94.7 L36.2,88.1 Q36.2,85.1 39.400000000000006,84.4 Z" fill="#fff"/><text x="49.50" y="90.86" font-size="6.3" fill="#666" font-weight="normal" text-anchor="middle" dominant-baseline="central" >Topic</text><polygon points="77.4,57 96,52.3 107.5,52.3 125.9,57 125.9,71.6 107.5,76.3 96,76.3 77.4,71.6" fill="#2b80dc"/><text x="101.60" y="64.40" font-size="8.8" fill="#fff" font-weight="bold" text-anchor="middle" dominant-baseline="central" >Central</text><path d="M144.0,36.5 Q153.65,34.7 163.3,36.5 Q166.5,37.2 166.5,40.2 L166.5,46.699999999999996 Q166.5,49.699999999999996 163.3,50.4 Q153.65,52.199999999999996 144.0,50.4 Q140.8,49.699999999999996 140.8,46.699999999999996 L140.8,40.2 Q140.8,37.2 144.0,36.5 Z" fill="#fff"/><text x="153.80" y="43.06" font-size="6.3" fill="#666" font-weight="normal" text-anchor="middle" dominant-baseline="central" >Topic</text><rect x="145.00" y="62.70" width="22.80" height="9.80" rx="2.2" fill="#2b80dc" /><rect x="139.80" y="70.60" width="55.60" height="29.80" rx="4" fill="#f1d9e9" stroke="#6580c4" stroke-width="0.8" stroke-dasharray="2.4 1.5"/><path d="M169.7,85.5 L174,85.5 M177.8,79.2 L174,79.2 L174,91.8 L177.8,91.8" fill="none" stroke="#f9e9ef" stroke-width="0.9" /><path d="M146.6,78.2 Q156.55,76.39999999999999 166.5,78.2 Q169.7,78.89999999999999 169.7,81.89999999999999 L169.7,89.4 Q169.7,92.4 166.5,93.1 Q156.55,94.9 146.6,93.1 Q143.4,92.4 143.4,89.4 L143.4,81.89999999999999 Q143.4,78.89999999999999 146.6,78.2 Z" fill="#fff"/><text x="156.70" y="85.16" font-size="6.3" fill="#666" font-weight="normal" text-anchor="middle" dominant-baseline="central" >Topic</text><rect x="177.80" y="75.00" width="13.10" height="8.40" rx="1.5" fill="#f6dfe8" /><text x="184.35" y="79.03" font-size="4.3" fill="#7a7078" font-weight="normal" text-anchor="middle" dominant-baseline="central" >Topic</text><rect x="177.80" y="87.60" width="13.10" height="8.40" rx="1.5" fill="#f6dfe8" /><text x="184.35" y="91.63" font-size="4.3" fill="#7a7078" font-weight="normal" text-anchor="middle" dominant-baseline="central" >Topic</text><path d="M60.8,30.5 C72.8,22.4 112.4,20.4 137.3,33.800000000000004" fill="none" stroke="#4a74c6" stroke-width="1.3" stroke-dasharray="2.6 1.5"/><polygon points="140.30,35.80 135.90,35.72 138.03,32.03" fill="#3a7ad4"/></g>
<g transform="translate(262.50,439.50)"><path d="M62.4,42 L68.7,42 L77.2,56.1" fill="none" stroke="#343a4c" stroke-width="0.9" /><path d="M62.4,65.9 L74.5,65.9" fill="none" stroke="#343a4c" stroke-width="0.9" /><path d="M62.4,89.8 L68.7,89.8 L77.2,76.2" fill="none" stroke="#343a4c" stroke-width="0.9" /><path d="M118.6,56.1 L126.4,45.8 L133.6,45.8" fill="none" stroke="#343a4c" stroke-width="0.9" /><path d="M118.6,76.2 L127.8,86.2 L136.5,86.2" fill="none" stroke="#343a4c" stroke-width="0.9" /><rect x="9.70" y="49.60" width="15.40" height="8.90" rx="2" fill="#dddbd6" /><path d="M33.6,35.2 L31,35.2 L31,72.7 L33.6,72.7 M31,53.95 L27.7,53.95" fill="none" stroke="#cdd4e2" stroke-width="0.8" /><rect x="37.20" y="35.60" width="25.20" height="12.70" rx="0.5" fill="#3b69b1" /><text x="49.80" y="41.66" font-size="5.8" fill="#fff" font-weight="bold" text-anchor="middle" dominant-baseline="central" >Topic</text><rect x="37.20" y="59.40" width="25.20" height="12.90" rx="0.5" fill="#3b69b1" /><text x="49.80" y="65.56" font-size="5.8" fill="#fff" font-weight="bold" text-anchor="middle" dominant-baseline="central" >Topic</text><rect x="37.20" y="83.40" width="25.20" height="12.90" rx="0.5" fill="#3b69b1" /><text x="49.80" y="89.56" font-size="5.8" fill="#fff" font-weight="bold" text-anchor="middle" dominant-baseline="central" >Topic</text><rect x="74.50" y="56.10" width="46.60" height="20.10" rx="0.8" fill="#2b3850" /><text x="97.80" y="66.30" font-size="8.6" fill="#fff" font-weight="bold" text-anchor="middle" dominant-baseline="central" >Central</text><rect x="133.60" y="39.50" width="24.90" height="12.70" rx="0.5" fill="#3b69b1" /><text x="146.05" y="45.56" font-size="5.8" fill="#fff" font-weight="bold" text-anchor="middle" dominant-baseline="central" >Topic</text><rect x="137.50" y="63.50" width="23.60" height="9.50" rx="2" fill="#e2dfd8" /><rect x="132.30" y="71.00" width="62.90" height="25.50" rx="4" fill="#c5cde1" /><path d="M161.4,86.2 L166.3,86.2 L174.2,81.7 L191.9,81.7 M166.3,86.2 L174.2,90.9 L191.9,90.9" fill="none" stroke="#4a5064" stroke-width="0.8" /><rect x="136.50" y="79.70" width="24.90" height="12.90" rx="0.5" fill="#3b69b1" /><text x="148.95" y="85.86" font-size="5.8" fill="#fff" font-weight="bold" text-anchor="middle" dominant-baseline="central" >Topic</text><text x="184.50" y="78.04" font-size="4.2" fill="#556" font-weight="normal" text-anchor="middle" dominant-baseline="central" >Topic</text><text x="184.50" y="87.34" font-size="4.2" fill="#556" font-weight="normal" text-anchor="middle" dominant-baseline="central" >Topic</text><path d="M62.4,35 C74.4,26.9 112.4,24.9 131.4,36.800000000000004" fill="none" stroke="#dfe3ec" stroke-width="0.9" /><polygon points="132.60,37.60 128.90,37.66 130.58,34.50" fill="#dfe3ec"/></g>
<g transform="translate(494.50,439.50)"><path d="M63.2,40.5 L80.5,58.5" fill="none" stroke="#c4e4ec" stroke-width="1.1" /><path d="M63.2,65 L79.5,65" fill="none" stroke="#c4e4ec" stroke-width="1.1" /><path d="M63.2,89.6 L80.5,71.8" fill="none" stroke="#c4e4ec" stroke-width="1.1" /><path d="M125.5,58.5 L142,45.2" fill="none" stroke="#c4e4ec" stroke-width="1.1" /><path d="M125.5,71.8 L144.8,85" fill="none" stroke="#c4e4ec" stroke-width="1.1" /><rect x="9.70" y="47.50" width="15.70" height="10.50" rx="2.5" fill="none" stroke="#c4e6ee" stroke-width="1.1" /><path d="M33.6,33.6 L30.4,33.6 L30.4,72 L33.6,72 M30.4,52.8 L27,52.8" fill="none" stroke="#c4e6ee" stroke-width="1.1" /><rect x="37.80" y="33.40" width="25.40" height="13.90" rx="2" fill="#fbe3ba" /><text x="50.50" y="40.02" font-size="6.2" fill="#5e4a2a" font-weight="bold" text-anchor="middle" dominant-baseline="central" >Topic</text><rect x="37.80" y="58.10" width="25.40" height="13.80" rx="2" fill="#fbe3ba" /><text x="50.50" y="64.67" font-size="6.2" fill="#5e4a2a" font-weight="bold" text-anchor="middle" dominant-baseline="central" >Topic</text><rect x="37.80" y="83.00" width="25.40" height="13.50" rx="2" fill="#fbe3ba" /><text x="50.50" y="89.42" font-size="6.2" fill="#5e4a2a" font-weight="bold" text-anchor="middle" dominant-baseline="central" >Topic</text><path d="M79,59 Q102.9,49 126.9,59 L126.9,71.2 Q102.9,81.2 79,71.2 Z" fill="#fff"/><text x="102.90" y="65.20" font-size="9.3" fill="#333" font-weight="normal" text-anchor="middle" dominant-baseline="central" >Central</text><rect x="142.00" y="38.30" width="25.00" height="13.70" rx="2" fill="#fbe3ba" /><text x="154.50" y="44.82" font-size="6.2" fill="#5e4a2a" font-weight="bold" text-anchor="middle" dominant-baseline="central" >Topic</text><rect x="146.30" y="63.20" width="24.70" height="10.30" rx="2.2" fill="#fff" /><rect x="141.60" y="71.90" width="53.80" height="26.70" rx="4" fill="#74b8ca" stroke="#d8f0f4" stroke-width="1.0" stroke-dasharray="2.8 1.7"/><path d="M170,85 L173.5,85 M178,79.4 C174,79.4 173.5,81 173.5,85 C173.5,89 174,90.8 178,90.8" fill="none" stroke="#e8f6f8" stroke-width="0.9" /><rect x="144.80" y="78.50" width="25.20" height="13.10" rx="2" fill="#fbe3ba" /><text x="157.40" y="84.72" font-size="6.2" fill="#5e4a2a" font-weight="bold" text-anchor="middle" dominant-baseline="central" >Topic</text><text x="185.00" y="78.83" font-size="4.3" fill="#fff" font-weight="bold" text-anchor="middle" dominant-baseline="central" >Topic</text><text x="185.00" y="90.43" font-size="4.3" fill="#fff" font-weight="bold" text-anchor="middle" dominant-baseline="central" >Topic</text><path d="M62.4,32.6 C74.4,25.0 112.4,23.0 140.4,36.0" fill="none" stroke="#e8f6f8" stroke-width="1.1" stroke-dasharray="2.6 1.5"/><polygon points="141.60,36.80 137.90,36.86 139.58,33.70" fill="#e8f6f8"/></g>
<g transform="translate(726.50,439.50)"><rect x="132.00" y="72.40" width="62.80" height="24.10" rx="3.5" fill="#3b343f" /><path d="M34.6,46.2 L64,46.2 C73,46.2 73,60 79,64" fill="none" stroke="#2cc9b9" stroke-width="1.3" stroke-linecap="round"/><path d="M34.6,69.8 L74,69.8" fill="none" stroke="#2cc9b9" stroke-width="1.3" stroke-linecap="round"/><path d="M34.6,93.4 L64,93.4 C73,93.4 73,80 79,76" fill="none" stroke="#2cc9b9" stroke-width="1.3" stroke-linecap="round"/><path d="M117,64 C124,58 122,51.7 132,51.7 L158.7,51.7" fill="none" stroke="#2cc9b9" stroke-width="1.3" stroke-linecap="round"/><path d="M117,76 C124,82 122,88.2 132,88.2 L166,88.2" fill="none" stroke="#2cc9b9" stroke-width="1.3" stroke-linecap="round"/><path d="M166,88.2 C172,88.2 172,83 178,83 L192,83 M166,88.2 C172,88.2 172,92.9 178,92.9 L192,92.9" fill="none" stroke="#2cc9b9" stroke-width="1" /><rect x="9.70" y="47.50" width="13.30" height="9.20" rx="2.2" fill="#fff" /><path d="M31.5,33.6 L27.8,33.6 L27.8,71 L31.5,71 M27.8,52.3 L24.5,52.3" fill="none" stroke="#bbb" stroke-width="0.9" /><text x="47.40" y="39.11" font-size="5.8" fill="#fff" font-weight="bold" text-anchor="middle" dominant-baseline="central" >Topic</text><text x="47.40" y="63.11" font-size="5.8" fill="#fff" font-weight="bold" text-anchor="middle" dominant-baseline="central" >Topic</text><text x="47.40" y="86.01" font-size="5.8" fill="#fff" font-weight="bold" text-anchor="middle" dominant-baseline="central" >Topic</text><rect x="72.00" y="60.60" width="48.60" height="18.40" rx="9.2" fill="#c9f07a" /><text x="96.30" y="69.90" font-size="8.4" fill="#2e3a2a" font-weight="bold" text-anchor="middle" dominant-baseline="central" >Central</text><text x="145.00" y="44.21" font-size="5.8" fill="#fff" font-weight="bold" text-anchor="middle" dominant-baseline="central" >Topic</text><rect x="135.80" y="64.60" width="20.80" height="7.80" rx="2" fill="#fff" /><text x="148.20" y="80.81" font-size="5.8" fill="#fff" font-weight="bold" text-anchor="middle" dominant-baseline="central" >Topic</text><text x="183.50" y="78.93" font-size="4.3" fill="#fff" font-weight="bold" text-anchor="middle" dominant-baseline="central" >Topic</text><text x="183.50" y="88.93" font-size="4.3" fill="#fff" font-weight="bold" text-anchor="middle" dominant-baseline="central" >Topic</text><path d="M60.3,33 C72.3,26.3 107,24.3 129.8,35.900000000000006" fill="none" stroke="#f4f0f4" stroke-width="0.9" /><polygon points="131.00,36.70 127.30,36.76 128.98,33.60" fill="#f4f0f4"/></g>
</svg>
<div class="btn" style="left:25px;top:607px;width:85.5px">打开文件</div>
<div class="btn" style="left:119.5px;top:607px;width:85px">最近打开</div>
<div class="btn" style="left:785px;top:607px;width:71.5px;background:#0f6fe6;color:#fff;box-shadow:none">创建</div>
<div class="btn" style="left:865px;top:607px;width:72px">取消</div>
<div id="frame" class="abs"></div>
</body></html>
